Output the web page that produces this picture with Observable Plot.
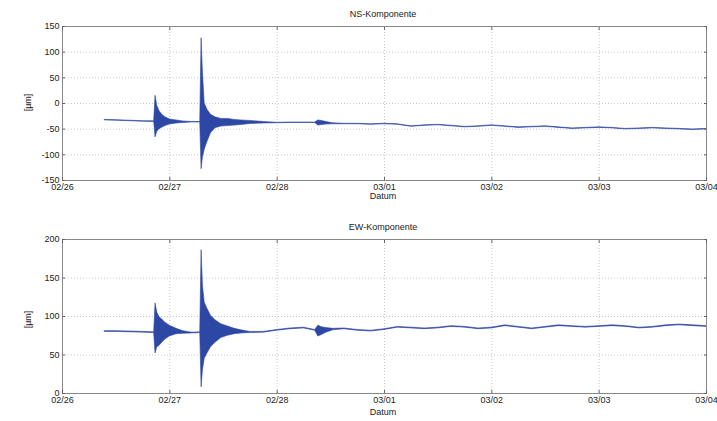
<!DOCTYPE html>
<html><head><meta charset="utf-8">
<script src="https://cdn.jsdelivr.net/npm/d3@7"></script>
<script src="https://cdn.jsdelivr.net/npm/@observablehq/plot@0.6"></script>
<style>
body{margin:0;background:#fff;font-family:"Liberation Sans",Arial,sans-serif;}
#wrap{position:relative;width:717px;height:421px;overflow:hidden;}
.panel{position:absolute;left:0;}
.title{position:absolute;left:0;width:766px;text-align:center;font-size:9px;color:#222;line-height:1;}
.xlab{position:absolute;left:0;width:766px;text-align:center;font-size:9px;color:#222;line-height:1;}
.ylab{position:absolute;font-size:9px;color:#222;transform:rotate(-90deg);transform-origin:center;line-height:1;}
</style></head><body><div id="wrap"></div>
<script>
// tick labels
const xTickLabels = ["02/26","02/27","02/28","03/01","03/02","03/03","03/04"];
const nsYTicks = [-150,-100,-50,0,50,100,150];
const ewYTicks = [0,50,100,150,200];
const titles = ["NS-Komponente","EW-Komponente"];
const xTitle = "Datum";
const yTitle = "[µm]";

// hours since 02/26 00:00
const hours = [9.5,12,15,18,20.5,20.8,21.2,21.7,22.3,23,24,25.5,27,29,30.8,
  31.1,31.4,31.8,32.4,33.2,34.2,35.5,37,38.5,40,42,45,48,51,54,56.5,
  57.2,58,59,60.5,63,66,69,72,75,78,81,84,87,90,93,96,99,102,105,108,111,114,117,120,123,126,129,132,135,138,141,144];

// NS component envelope (min / max)
const nsLow = [-33,-33.5,-34.5,-35.5,-35.8,-66,-55,-50,-47,-44,-41,-39,-38,-37,-37,
  -128,-105,-90,-75,-58,-48,-45,-44,-43,-42,-40,-39,-38.5,-38,-38,-38,
  -43,-42,-41,-40.5,
  -40.5,-40.5,-41.5,-40.5,-41.5,-45.5,-43.5,-42.5,-44.5,-46.5,-45.5,-43.5,-45.5,-47.5,-46.5,-45.5,-47.5,-49.5,-48.5,-47.5,-48.5,-50.5,-49.5,-48.5,-49.5,-50.5,-51.5,-50.5];
const nsHigh = [-32,-32.5,-33.5,-34.5,-34.8,15,-5,-15,-22,-27,-31,-33,-35,-36,-36,
  127,60,0,-12,-22,-27,-30,-30,-32,-33,-34,-36,-37.5,-37,-37,-37,
  -33,-34,-36,-38.5,
  -39.5,-39.5,-40.5,-39.5,-40.5,-44.5,-42.5,-41.5,-43.5,-45.5,-44.5,-42.5,-44.5,-46.5,-45.5,-44.5,-46.5,-48.5,-47.5,-46.5,-47.5,-49.5,-48.5,-47.5,-48.5,-49.5,-50.5,-49.5];

// EW component envelope (min / max)
const ewLow = [80,80,79.5,79,78.5,52,60,62,66,70,74,77,77.5,78,78.5,
  8,30,45,52,60,66,72,75,77,78,78.5,79,81.5,83.5,84.5,81.5,
  74,76,79,82,
  83.5,81.5,80.5,82.5,85.5,84.5,83.5,84.5,86.5,85.5,83.5,84.5,87.5,85.5,83.5,85.5,87.5,86.5,85.5,86.5,87.5,86.5,84.5,85.5,87.5,88.5,87.5,86.5];
const ewHigh = [81,81,80.5,80,79.5,117,105,99,96,92,88,84,81,79,79.5,
  186,140,118,110,101,95,90,87,84,82,80,80,82.5,84.5,85.5,82.5,
  88,86,85,84,
  84.5,82.5,81.5,83.5,86.5,85.5,84.5,85.5,87.5,86.5,84.5,85.5,88.5,86.5,84.5,86.5,88.5,87.5,86.5,87.5,88.5,87.5,85.5,86.5,88.5,89.5,88.5,87.5];

const start = Date.UTC(2011,1,26);
const parseTick = d3.utcParse("%Y/%m/%d");
const xTicks = xTickLabels.map(s => parseTick("2011/" + s));
const fmt = d3.utcFormat("%m/%d");

const nsData = hours.map((h,i) => ({date: new Date(start + h*3600e3), low: nsLow[i], high: nsHigh[i]}));
const ewData = hours.map((h,i) => ({date: new Date(start + h*3600e3), low: ewLow[i], high: ewHigh[i]}));

const blue = "#2d47a5";
const wrap = document.getElementById("wrap");

function panel(data, yTicks, top, height, marginTop, marginBottom, title, titleY, xlabY, ylabY) {
  const grid = {stroke:"#c8c8c8", strokeOpacity:1, strokeDasharray:"1,2"};
  const chart = Plot.plot({
    width: 717, height,
    marginLeft: 62, marginRight: 11, marginTop, marginBottom,
    style: {fontFamily:"'Liberation Sans',Arial,sans-serif", fontSize:"9px", color:"#222", background:"white", overflow:"visible"},
    x: {type:"utc", domain:[xTicks[0], xTicks[xTicks.length-1]]},
    y: {domain:[yTicks[0], yTicks[yTicks.length-1]]},
    marks: [
      Plot.gridX(xTicks, grid),
      Plot.gridY(yTicks, grid),
      Plot.areaY(data, {x:"date", y1:"low", y2:"high", fill: blue, stroke: blue, strokeWidth: 0.6, curve:"linear"}),
      Plot.frame({stroke:"#888"}),
      Plot.axisX(xTicks, {anchor:"bottom", tickSize:-3, tickPadding:6, tickFormat: fmt, label:null, stroke:"#666"}),
      Plot.axisX(xTicks, {anchor:"top", tickSize:-3, tickFormat: () => "", label:null, stroke:"#666"}),
      Plot.axisY(yTicks, {anchor:"left", tickSize:-3, tickPadding:6, tickFormat: d => String(d), label:null, stroke:"#666"}),
      Plot.axisY(yTicks, {anchor:"right", tickSize:-3, tickFormat: () => "", label:null, stroke:"#666"})
    ]
  });
  chart.classList.add("panel");
  chart.style.top = top + "px";
  wrap.appendChild(chart);
  const t = document.createElement("div");
  t.className = "title"; t.textContent = title; t.style.top = titleY + "px";
  wrap.appendChild(t);
  const xl = document.createElement("div");
  xl.className = "xlab"; xl.textContent = xTitle; xl.style.top = xlabY + "px";
  wrap.appendChild(xl);
  const yl = document.createElement("div");
  yl.className = "ylab"; yl.textContent = yTitle;
  yl.style.left = "20px"; yl.style.top = ylabY + "px";
  wrap.appendChild(yl);
}

panel(nsData, nsYTicks, 0, 210, 26, 30, titles[0], 10, 192, 98);
panel(ewData, ewYTicks, 210, 211, 29, 28, titles[1], 223, 408, 315);
</script>
</body></html>
